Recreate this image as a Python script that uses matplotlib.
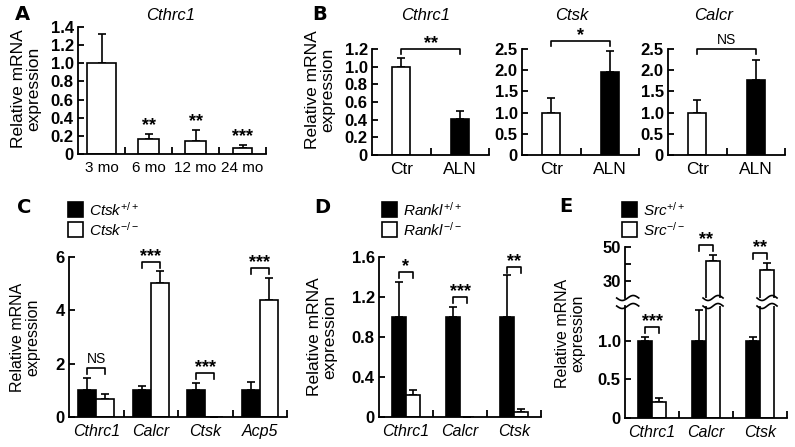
import numpy as np
import matplotlib
matplotlib.use('Agg')
import matplotlib.pyplot as plt
from matplotlib.patches import Rectangle

plt.rcParams['font.family'] = ['Liberation Sans', 'DejaVu Sans']
plt.rcParams['mathtext.fontset'] = 'custom'
plt.rcParams['mathtext.rm'] = 'Liberation Sans'
plt.rcParams['mathtext.it'] = 'Liberation Sans:italic'

W, H = 795, 447

# ---- data ----
# A: Cthrc1 with age
a_groups = ['3 mo', '6 mo', '12 mo', '24 mo']
a_mean = [1.0, 0.16, 0.14, 0.07]
a_err = [0.32, 0.06, 0.13, 0.03]
a_sig = ['', '**', '**', '***']

# B: alendronate treatment
b_genes = ['Cthrc1', 'Ctsk', 'Calcr']
b_groups = ['Ctr', 'ALN']
b_ctr = [1.0, 1.0, 1.0]
b_ctr_err = [0.10, 0.35, 0.30]
b_aln = [0.41, 1.95, 1.78]
b_aln_err = [0.09, 0.50, 0.47]
b_sig = ['**', '*', 'NS']
b_bracket = [1.2, 2.68, 2.5]
b_ymax = [1.2, 2.5, 2.5]
b_yticks = [[0, 0.2, 0.4, 0.6, 0.8, 1.0, 1.2], [0, 0.5, 1.0, 1.5, 2.0, 2.5], [0, 0.5, 1.0, 1.5, 2.0, 2.5]]
b_ylabels = [['0', '0.2', '0.4', '0.6', '0.8', '1.0', '1.2'], ['0', '0.5', '1.0', '1.5', '2.0', '2.5'],
             ['0', '0.5', '1.0', '1.5', '2.0', '2.5']]

# C: Ctsk knockout
c_genes = ['Cthrc1', 'Calcr', 'Ctsk', 'Acp5']
c_wt = [1.0, 1.0, 1.0, 1.0]
c_wt_err = [0.46, 0.17, 0.27, 0.31]
c_ko = [0.68, 5.02, 0.0, 4.38]
c_ko_err = [0.19, 0.44, 0.0, 0.85]
c_sig = ['NS', '***', '***', '***']
c_bracket = [1.82, 5.81, 1.65, 5.6]

# D: Rankl knockout
d_genes = ['Cthrc1', 'Calcr', 'Ctsk']
d_wt = [1.0, 1.0, 1.0]
d_wt_err = [0.35, 0.10, 0.42]
d_ko = [0.22, 0.0, 0.05]
d_ko_err = [0.05, 0.0, 0.03]
d_sig = ['*', '***', '**']
d_bracket = [1.45, 1.2, 1.5]

# E: Src knockout (broken axis)
e_genes = ['Cthrc1', 'Calcr', 'Ctsk']
e_wt = [1.0, 1.0, 1.0]
e_wt_err = [0.05, 0.40, 0.05]
e_ko = [0.21, 41.8, 36.3]
e_ko_err = [0.05, 3.3, 4.3]
e_sig = ['***', '**', '**']
e_bracket = [1.18, 51.0, 46.5]

fig = plt.figure(figsize=(W / 100, H / 100), dpi=100)


def box(x0, y0, x1, y1):
    return [x0 / W, 1 - y1 / H, (x1 - x0) / W, (y1 - y0) / H]


def pt(x, y):
    return x / W, 1 - y / H


def style(ax, ymax, yticks, ylabels, cats, italic=False, fs=12, cfs=11.5):
    n = len(cats)
    ax.set_xlim(-0.5, n - 0.5)
    ax.set_ylim(0, ymax)
    for s in ['top', 'right']:
        ax.spines[s].set_visible(False)
    for s in ['left', 'bottom']:
        ax.spines[s].set_linewidth(1.3)
    ax.set_yticks(yticks)
    ax.set_yticklabels(ylabels, fontweight='bold', fontsize=fs)
    ax.tick_params(axis='y', direction='in', length=4, width=1.3, pad=3)
    ax.set_xticks(range(n))
    ax.set_xticklabels(cats, fontsize=cfs, style='italic' if italic else 'normal')
    ax.tick_params(axis='x', which='major', length=0, pad=5)
    ax.set_xticks(np.arange(n) + 0.5, minor=True)
    ax.tick_params(axis='x', which='minor', direction='in', length=5, width=1.3)


def bars(ax, x, h, err, color, w):
    ax.bar(x, h, width=w, color=color, edgecolor='black', linewidth=1.2, zorder=2)
    ax.errorbar(x, h, yerr=[np.zeros(len(h)), err], fmt='none', ecolor='black',
                elinewidth=1.2, capsize=3, capthick=1.2, zorder=1)


def bracket(ax, x1, x2, y, label, leg=6):
    inv = ax.transData.inverted()
    p = ax.transData.transform((x1, y))
    ylow = inv.transform((p[0], p[1] - leg))[1]
    ax.plot([x1, x1, x2, x2], [ylow, y, y, ylow], color='black', lw=1.2, clip_on=False)
    if label == 'NS':
        ax.annotate(label, ((x1 + x2) / 2, y), xytext=(0, 1.5), textcoords='offset points',
                    ha='center', va='bottom', fontsize=10, annotation_clip=False)
    else:
        ax.annotate(label, ((x1 + x2) / 2, y), xytext=(0, 4), textcoords='offset points',
                    ha='center', va='center', fontsize=13, fontweight='bold', annotation_clip=False)


def ylab(x, y, fs=12.5):
    fig.text(*pt(x, y), 'Relative mRNA\nexpression', rotation=90, ha='center', va='center',
             fontsize=fs, linespacing=1.05)


def wave(ax, xc, y, half_w, amp=2.5):
    cx, cy = ax.transData.transform((xc, y))
    t = np.linspace(-1, 1, 40)
    pix = np.column_stack([cx + t * half_w, cy + amp * np.sin(np.pi * t)])
    pts = ax.transData.inverted().transform(pix)
    ax.plot(pts[:, 0], pts[:, 1], color='black', lw=1.2, clip_on=False, zorder=5)


# ---- A ----
axA = fig.add_axes(box(78, 27, 266, 154))
style(axA, 1.4, [0, 0.2, 0.4, 0.6, 0.8, 1.0, 1.2, 1.4],
      ['0', '0.2', '0.4', '0.6', '0.8', '1.0', '1.2', '1.4'], a_groups, cfs=11)
xa = np.arange(len(a_groups))
bars(axA, xa, a_mean, a_err, 'white', [0.6, 0.43, 0.45, 0.42])
for i, s in enumerate(a_sig):
    if s:
        axA.annotate(s, (xa[i], a_mean[i] + a_err[i]), xytext=(0, 6), textcoords='offset points',
                     ha='center', va='center', fontsize=13, fontweight='bold')
fig.text(*pt(171, 15), 'Cthrc1', ha='center', va='center', fontsize=12, style='italic')
ylab(26, 89)
fig.text(*pt(22, 15), 'A', ha='center', va='center', fontsize=14, fontweight='heavy', family='DejaVu Sans')

# ---- B ----
b_left = [372, 522, 668]
b_title_x = [426, 572, 714]
for k, g in enumerate(b_genes):
    ax = fig.add_axes(box(b_left[k], 49, b_left[k] + 117, 155))
    style(ax, b_ymax[k], b_yticks[k], b_ylabels[k], b_groups, cfs=12.5)
    bars(ax, [0], [b_ctr[k]], [b_ctr_err[k]], 'white', 0.3)
    bars(ax, [1], [b_aln[k]], [b_aln_err[k]], 'black', 0.3)
    bracket(ax, 0, 1, b_bracket[k], b_sig[k], leg=5)
    fig.text(*pt(b_title_x[k], 15), g, ha='center', va='center', fontsize=12, style='italic')
ylab(320, 90)
fig.text(*pt(320, 14), 'B', ha='center', va='center', fontsize=14, fontweight='heavy', family='DejaVu Sans')


def legend(x, name):
    fig.patches.append(Rectangle(pt(x, 217), 15 / W, 15 / H, transform=fig.transFigure,
                                 facecolor='black', edgecolor='black', lw=1.2))
    fig.patches.append(Rectangle(pt(x, 237), 15 / W, 15 / H, transform=fig.transFigure,
                                 facecolor='white', edgecolor='black', lw=1.2))
    fig.text(*pt(x + 21, 210), r'$%s^{+/+}$' % name, ha='left', va='center', fontsize=11)
    fig.text(*pt(x + 21, 230), r'$%s^{-/-}$' % name, ha='left', va='center', fontsize=11)


# ---- C ----
axC = fig.add_axes(box(69, 257, 287, 417))
style(axC, 6, [0, 2, 4, 6], ['0', '2', '4', '6'], c_genes, italic=True)
xc = np.arange(len(c_genes))
bars(axC, xc - 0.165, c_wt, c_wt_err, 'black', 0.33)
bars(axC, xc + 0.165, c_ko, c_ko_err, 'white', 0.33)
for i, s in enumerate(c_sig):
    bracket(axC, xc[i] - 0.165, xc[i] + 0.165, c_bracket[i], s)
ylab(25, 337, 11.5)
fig.text(*pt(24, 208), 'C', ha='center', va='center', fontsize=14, fontweight='heavy', family='DejaVu Sans')
legend(68, 'Ctsk')

# ---- D ----
axD = fig.add_axes(box(379, 257, 541, 417))
style(axD, 1.6, [0, 0.4, 0.8, 1.2, 1.6], ['0', '0.4', '0.8', '1.2', '1.6'], d_genes, italic=True)
xd = np.arange(len(d_genes))
bars(axD, xd - 0.13, d_wt, d_wt_err, 'black', 0.26)
bars(axD, xd + 0.13, d_ko, d_ko_err, 'white', 0.26)
for i, s in enumerate(d_sig):
    bracket(axD, xd[i] - 0.13, xd[i] + 0.13, d_bracket[i], s)
ylab(322, 337)
fig.text(*pt(322, 208), 'D', ha='center', va='center', fontsize=14, fontweight='heavy', family='DejaVu Sans')
legend(382, 'Rankl')

# ---- E (broken axis) ----
axE = fig.add_axes(box(625, 306, 787, 418))
style(axE, 1.45, [0, 0.5, 1.0], ['0', '0.5', '1.0'], e_genes, italic=True)
axEu = fig.add_axes(box(625, 247, 787, 298))
axEu.set_xlim(-0.5, len(e_genes) - 0.5)
axEu.set_ylim(20, 50)
for s in ['top', 'right', 'bottom']:
    axEu.spines[s].set_visible(False)
axEu.spines['left'].set_linewidth(1.3)
axEu.set_xticks([])
axEu.set_yticks([30, 40, 50])
axEu.set_yticklabels(['30', '', '50'], fontweight='bold', fontsize=12)
axEu.tick_params(axis='y', direction='in', length=4, width=1.3, pad=3)
xe = np.arange(len(e_genes))
for ax in (axE, axEu):
    bars(ax, xe - 0.13, e_wt, e_wt_err, 'black', 0.26)
    bars(ax, xe + 0.13, e_ko, e_ko_err, 'white', 0.26)
for i, s in enumerate(e_sig):
    ax = axE if e_bracket[i] < 1.45 else axEu
    bracket(ax, xe[i] - 0.13, xe[i] + 0.13, e_bracket[i], s)
for i in range(len(e_genes)):
    if e_ko[i] > 1.45:
        wave(axEu, xe[i] + 0.13, 20, 10)
        wave(axE, xe[i] + 0.13, 1.45, 10)
wave(axEu, -0.45, 20, 11)
wave(axE, -0.45, 1.45, 11)
ylab(570, 333, 11.5)
fig.text(*pt(566, 207), 'E', ha='center', va='center', fontsize=14, fontweight='heavy', family='DejaVu Sans')
legend(622, 'Src')

fig.savefig('out.png', dpi=100)
